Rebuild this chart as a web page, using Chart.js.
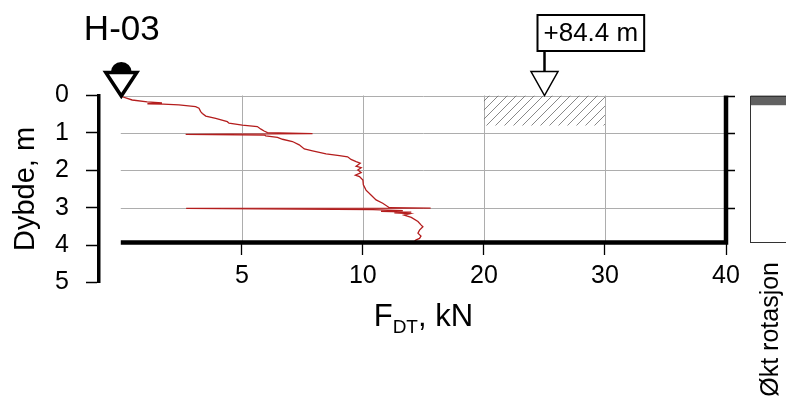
<!DOCTYPE html>
<html>
<head>
<meta charset="utf-8">
<title>H-03</title>
<script src="https://cdn.jsdelivr.net/npm/chart.js@4.4.1/dist/chart.umd.min.js"></script>
<style>
  html, body { margin: 0; padding: 0; background: #fff; }
</style>
</head>
<body>
<canvas id="sounding" width="786" height="401"></canvas>
<script>
// Totalsondering H-03: borneddrivningsmotstand mot dybde
const boreholeName = 'H-03';

const depthM = [
  0.02, 0.12, 0.17, 0.20, 0.22, 0.23, 0.25, 0.30, 0.34, 0.43,
  0.48, 0.55, 0.61, 0.70, 0.74, 0.79, 0.83, 0.90, 0.95, 0.99,
  1.02, 1.04, 1.06, 1.08, 1.12, 1.17, 1.23, 1.32, 1.43, 1.48,
  1.56, 1.61, 1.64, 1.71, 1.77, 1.81, 1.89, 1.93, 1.99, 2.06,
  2.13, 2.17, 2.26, 2.39, 2.53, 2.66, 2.79, 2.88, 3.00, 3.01,
  3.02, 3.05, 3.08, 3.10, 3.12, 3.14, 3.16, 3.20, 3.26, 3.37,
  3.46, 3.51, 3.60, 3.68, 3.76, 3.82, 3.86, 3.89
];
const forceKN = [
  0.00, 0.47, 1.09, 1.70, 1.10, 1.75, 2.40, 3.09, 3.23, 3.30,
  3.37, 3.51, 3.92, 4.40, 4.47, 5.02, 5.64, 5.79, 5.92, 6.06,
  7.92, 2.68, 5.95, 5.99, 6.47, 6.68, 7.09, 7.37, 7.58, 7.92,
  8.48, 9.03, 9.37, 9.51, 9.72, 9.89, 9.72, 9.93, 9.79, 9.93,
  9.69, 9.86, 10.0, 10.04, 10.26, 10.67, 11.09, 11.64, 12.19, 15.6,
  2.70, 10.83, 13.3, 11.5, 14.0, 12.6, 13.9, 13.4, 14.0, 14.55,
  14.8, 14.96, 14.68, 14.55, 14.8, 14.68, 14.4, 14.27
];

const stopDepth = 3.93;          // sonderingen avsluttet
const depthTicks = [0, 1, 2, 3, 4, 5];
const forceTicks = [5, 10, 20, 30, 40];
const forceSplit = 10;           // skalaen halveres over 10 kN
const forceMax = 40;

// skravert felt (kN, m)
const hatchForce = [20, 30];
const hatchDepth = [0, 0.8];

// terrengkote
const levelForce = 25;
const levelText = '+84.4 m';

// økt rotasjon (m)
const rotFrom = [0];
const rotTo = [0.26];

const FONT = "'Liberation Sans', Arial, sans-serif";

class SplitScale extends Chart.LinearScale {
  squeeze(v) {
    return v <= forceSplit ? v : forceSplit + (v - forceSplit) / 2;
  }
  getPixelForValue(v) {
    if (v === null || v === undefined || isNaN(v)) return NaN;
    const lo = this.squeeze(this.min), hi = this.squeeze(this.max);
    return this.getPixelForDecimal((this.squeeze(v) - lo) / (hi - lo));
  }
  getValueForPixel(p) {
    const lo = this.squeeze(this.min), hi = this.squeeze(this.max);
    const m = lo + this.getDecimalForPixel(p) * (hi - lo);
    return m <= forceSplit ? m : forceSplit + (m - forceSplit) * 2;
  }
}
SplitScale.id = 'split';
SplitScale.defaults = Chart.LinearScale.defaults;
Chart.register(SplitScale);

function hatchPattern() {
  const c = document.createElement('canvas');
  c.width = 9; c.height = 9;
  const g = c.getContext('2d');
  g.strokeStyle = '#6a6a6a';
  g.lineWidth = 0.8;
  g.beginPath();
  g.moveTo(0, 9); g.lineTo(9, 0);
  g.moveTo(-1, 1); g.lineTo(1, -1);
  g.moveTo(8, 10); g.lineTo(10, 8);
  g.stroke();
  return g.createPattern(c, 'repeat');
}

const curve = depthM.map((d, i) => ({ x: forceKN[i], y: d }));
const frame = [
  { x: 0, y: stopDepth }, { x: forceMax, y: stopDepth }, { x: forceMax, y: 0 }
];
const hatch = [
  { x: hatchForce[0], y: hatchDepth[0] }, { x: hatchForce[1], y: hatchDepth[0] },
  { x: hatchForce[1], y: hatchDepth[1] }, { x: hatchForce[0], y: hatchDepth[1] },
  { x: hatchForce[0], y: hatchDepth[0] }
];

const extras = {
  id: 'extras',
  beforeDatasetsDraw(chart) {
    const { ctx, scales: { x, y } } = chart;
    const top = y.getPixelForValue(0), bot = y.getPixelForValue(stopDepth);
    ctx.save();
    ctx.strokeStyle = '#adadad';
    ctx.lineWidth = 1;
    ctx.beginPath();
    forceTicks.filter(v => v < forceMax).forEach(v => {
      const px = Math.round(x.getPixelForValue(v)) + 0.5;
      ctx.moveTo(px, top); ctx.lineTo(px, bot);
    });
    depthTicks.filter(d => d < stopDepth).forEach(d => {
      const py = Math.round(y.getPixelForValue(d)) + 0.5;
      ctx.moveTo(x.getPixelForValue(0), py); ctx.lineTo(x.getPixelForValue(forceMax), py);
    });
    ctx.stroke();
    ctx.restore();
  },
  afterDraw(chart) {
    const { ctx, scales: { x, y } } = chart;
    const x0 = x.getPixelForValue(0), y0 = y.getPixelForValue(0);
    const xEnd = x.getPixelForValue(forceMax);
    const yBot = y.getPixelForValue(stopDepth);
    ctx.save();

    // ticks outside the right frame
    ctx.strokeStyle = '#000';
    ctx.lineWidth = 1.3;
    ctx.beginPath();
    depthTicks.filter(d => d < stopDepth).forEach(d => {
      const py = Math.round(y.getPixelForValue(d)) + 0.5;
      ctx.moveTo(xEnd + 2, py); ctx.lineTo(xEnd + 9, py);
    });
    ctx.stroke();

    // borehole symbol
    ctx.fillStyle = '#000';
    ctx.beginPath();
    ctx.arc(x0 + 0.5, y0 - 23, 10.5, 0, Math.PI * 2);
    ctx.fill();
    ctx.beginPath();
    ctx.moveTo(x0 - 15, y0 - 23);
    ctx.lineTo(x0 + 16, y0 - 23);
    ctx.lineTo(x0 + 0.5, y0 + 0.5);
    ctx.closePath();
    ctx.fillStyle = '#fff';
    ctx.fill();
    ctx.lineWidth = 3.5;
    ctx.lineJoin = 'miter';
    ctx.strokeStyle = '#000';
    ctx.stroke();

    // borehole name
    ctx.fillStyle = '#000';
    ctx.font = `35px ${FONT}`;
    ctx.textAlign = 'center';
    ctx.textBaseline = 'alphabetic';
    ctx.fillText(boreholeName, x0 + 1, 40);

    // terrain level marker
    const lx = Math.round(x.getPixelForValue(levelForce)) + 0.5;
    ctx.beginPath();
    ctx.moveTo(lx - 13.5, y0 - 24);
    ctx.lineTo(lx + 13.5, y0 - 24);
    ctx.lineTo(lx, y0);
    ctx.closePath();
    ctx.fillStyle = '#fff';
    ctx.fill();
    ctx.lineWidth = 1.5;
    ctx.stroke();
    ctx.lineWidth = 2.5;
    ctx.beginPath();
    ctx.moveTo(lx, y0 - 24);
    ctx.lineTo(lx, 51);
    ctx.stroke();
    ctx.font = `26px ${FONT}`;
    const tw = ctx.measureText(levelText).width;
    ctx.fillStyle = '#fff';
    ctx.fillRect(lx - 7, 15, tw + 12, 36);
    ctx.lineWidth = 2;
    ctx.strokeRect(lx - 7, 15, tw + 12, 36);
    ctx.fillStyle = '#000';
    ctx.textAlign = 'left';
    ctx.textBaseline = 'middle';
    ctx.fillText(levelText, lx - 1, 34);

    // rotation column
    const cx = 750.5;
    ctx.fillStyle = '#616161';
    rotFrom.forEach((d, i) => {
      const a = y.getPixelForValue(d), b = y.getPixelForValue(rotTo[i]);
      ctx.fillRect(cx, a, 60, b - a);
    });
    ctx.strokeStyle = '#333';
    ctx.lineWidth = 1;
    ctx.strokeRect(cx, Math.round(y0) + 0.5, 60, Math.round(yBot) - Math.round(y0));
    ctx.save();
    ctx.translate(771, 262);
    ctx.rotate(-Math.PI / 2);
    ctx.font = `25px ${FONT}`;
    ctx.fillStyle = '#000';
    ctx.textAlign = 'right';
    ctx.textBaseline = 'middle';
    ctx.fillText('Økt rotasjon', 0, 0);
    ctx.restore();

    // x axis title with subscript
    const big = `31px ${FONT}`, small = `19px ${FONT}`;
    ctx.font = big;
    const wF = ctx.measureText('F').width, wRest = ctx.measureText(', kN').width;
    ctx.font = small;
    const wDT = ctx.measureText('DT').width;
    let tx = (x0 + xEnd) / 2 - (wF + wDT + wRest) / 2;
    const base = 326;
    ctx.textAlign = 'left';
    ctx.textBaseline = 'alphabetic';
    ctx.fillStyle = '#000';
    ctx.font = big; ctx.fillText('F', tx, base); tx += wF;
    ctx.font = small; ctx.fillText('DT', tx, base + 7); tx += wDT;
    ctx.font = big; ctx.fillText(', kN', tx, base);
    ctx.restore();
  }
};

new Chart(document.getElementById('sounding'), {
  type: 'line',
  data: {
    datasets: [
      {
        label: 'skravur', data: hatch, fill: 'shape', backgroundColor: hatchPattern(),
        borderWidth: 0, pointRadius: 0, order: 3
      },
      {
        label: 'FDT', data: curve, borderColor: '#b41d1d', borderWidth: 1.3,
        pointRadius: 0, fill: false, tension: 0, order: 2
      },
      {
        label: 'ramme', data: frame, borderColor: '#000', borderWidth: 4.5,
        borderJoinStyle: 'miter', pointRadius: 0, fill: false, clip: false, order: 1
      }
    ]
  },
  options: {
    responsive: false,
    animation: false,
    devicePixelRatio: 1,
    layout: { padding: { left: 0, right: 60, top: 95.5, bottom: 118.5 } },
    plugins: { legend: { display: false }, tooltip: { enabled: false } },
    scales: {
      x: {
        type: 'split',
        min: -0.9,
        max: forceMax,
        position: { y: stopDepth },
        afterBuildTicks: s => { s.ticks = forceTicks.map(v => ({ value: v })); },
        grid: { drawOnChartArea: false, tickLength: 13, tickColor: '#000', tickWidth: 1.3 },
        border: { display: false },
        ticks: {
          autoSkip: false, maxRotation: 0, padding: 6, color: '#000',
          font: { family: FONT, size: 25 },
          callback: v => String(v)
        }
      },
      y: {
        type: 'linear',
        position: 'left',
        reverse: true,
        min: 0,
        max: 5,
        afterFit: s => { s.width = 99; },
        afterBuildTicks: s => { s.ticks = depthTicks.map(v => ({ value: v })); },
        grid: { drawOnChartArea: false, tickLength: 13, tickColor: '#000', tickWidth: 1.5 },
        border: { display: true, color: '#000', width: 3.5 },
        ticks: { padding: 17, color: '#000', font: { family: FONT, size: 25 } },
        title: {
          display: true, text: 'Dybde, m', color: '#000',
          font: { family: FONT, size: 29 }, padding: { top: 9, bottom: 0 }
        }
      }
    }
  },
  plugins: [extras]
});
</script>
</body>
</html>
